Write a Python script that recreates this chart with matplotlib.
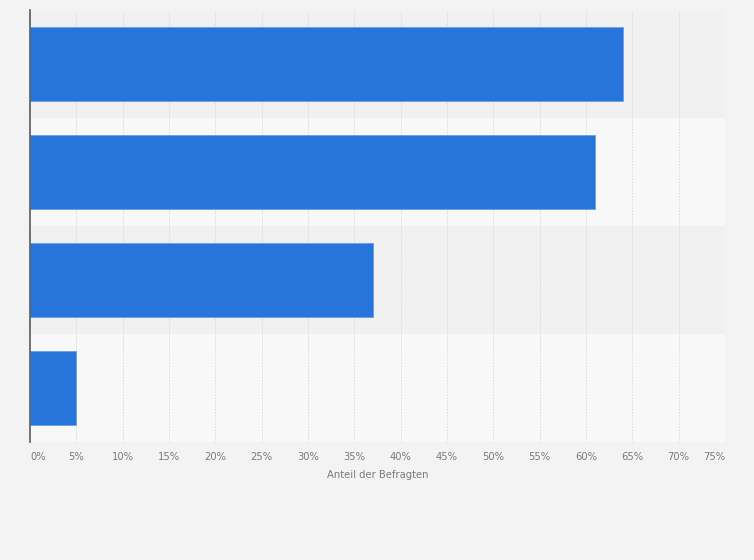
import matplotlib
matplotlib.use("Agg")
import matplotlib.pyplot as plt
import numpy as np

categories = ["Kategorie 1", "Kategorie 2", "Kategorie 3", "Kategorie 4"]
values = [64, 61, 37, 5]
xticks = [0, 5, 10, 15, 20, 25, 30, 35, 40, 45, 50, 55, 60, 65, 70, 75]
xticklabels = [f"{t}%" for t in xticks]
xlabel = "Anteil der Befragten"

BG = "#f3f3f3"
BAND_DARK = "#f1f1f1"
BAND_LIGHT = "#f8f8f8"
BAR = "#2775db"
BAR_EDGE = "#5e9be6"

fig = plt.figure(figsize=(7.54, 5.60), dpi=100, facecolor=BG)
W, H = 754, 560
ax = fig.add_axes([30 / W, (H - 442) / H, (725 - 30) / W, (442 - 10) / H])
ax.set_facecolor(BG)

y = np.arange(len(categories))
for i in y:
    ax.axhspan(i - 0.5, i + 0.5, color=BAND_DARK if i % 2 == 0 else BAND_LIGHT, zorder=0, lw=0)

for t in xticks[1:]:
    ax.axvline(t, color="#dadada", lw=0.7, ls=(0, (1.5, 1.5)), zorder=1)

ax.barh(y, values, height=0.685, color=BAR, edgecolor=BAR_EDGE, linewidth=0.5, zorder=2)

ax.set_xlim(0, 75)
ax.set_ylim(len(categories) - 0.5, -0.5)
ax.set_yticks([])
ax.set_xticks(xticks)
ax.set_xticklabels(xticklabels, fontsize=7.2, color="#7a7a7a")
labels = ax.get_xticklabels()
labels[0].set_ha("left")
labels[-1].set_ha("right")
ax.tick_params(axis="x", length=0, pad=7)
ax.set_xlabel(xlabel, fontsize=7.2, color="#7a7a7a", labelpad=6)

for s in ["top", "right", "bottom"]:
    ax.spines[s].set_visible(False)
ax.spines["left"].set_color("#5a5a5a")
ax.spines["left"].set_linewidth(1.2)
ax.spines["left"].set_zorder(3)

fig.savefig("out.png", dpi=100, facecolor=BG)
